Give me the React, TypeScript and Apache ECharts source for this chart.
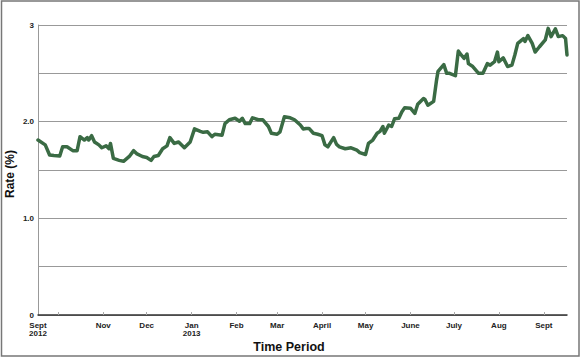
import React, { useEffect, useRef } from "react";
import * as echarts from "echarts";

const dates: string[] = [
  "2012-09-17", "2012-09-22", "2012-09-25", "2012-09-28", "2012-10-02", "2012-10-04", "2012-10-07", "2012-10-11",
  "2012-10-14", "2012-10-16", "2012-10-19", "2012-10-21", "2012-10-22", "2012-10-24", "2012-10-26", "2012-10-29",
  "2012-10-31", "2012-11-03", "2012-11-05", "2012-11-06", "2012-11-08", "2012-11-12", "2012-11-15", "2012-11-19",
  "2012-11-22", "2012-11-24", "2012-11-28", "2012-12-01", "2012-12-04", "2012-12-06", "2012-12-09", "2012-12-12",
  "2012-12-15", "2012-12-17", "2012-12-20", "2012-12-23", "2012-12-27", "2012-12-31", "2013-01-03", "2013-01-07",
  "2013-01-09", "2013-01-12", "2013-01-15", "2013-01-17", "2013-01-22", "2013-01-24", "2013-01-27", "2013-01-31",
  "2013-02-03", "2013-02-05", "2013-02-07", "2013-02-10", "2013-02-12", "2013-02-16", "2013-02-19", "2013-02-23",
  "2013-02-25", "2013-03-01", "2013-03-03", "2013-03-06", "2013-03-10", "2013-03-13", "2013-03-17", "2013-03-19",
  "2013-03-21", "2013-03-23", "2013-03-26", "2013-03-29", "2013-04-01", "2013-04-03", "2013-04-05", "2013-04-09",
  "2013-04-11", "2013-04-13", "2013-04-17", "2013-04-21", "2013-04-25", "2013-04-27", "2013-05-01", "2013-05-03",
  "2013-05-06", "2013-05-09", "2013-05-11", "2013-05-13", "2013-05-14", "2013-05-17", "2013-05-19", "2013-05-21",
  "2013-05-24", "2013-05-26", "2013-05-28", "2013-06-01", "2013-06-04", "2013-06-06", "2013-06-10", "2013-06-11",
  "2013-06-13", "2013-06-17", "2013-06-19", "2013-06-20", "2013-06-24", "2013-06-26", "2013-06-28", "2013-07-02",
  "2013-07-04", "2013-07-06", "2013-07-08", "2013-07-10", "2013-07-11", "2013-07-14", "2013-07-18", "2013-07-21",
  "2013-07-24", "2013-07-26", "2013-07-29", "2013-07-31", "2013-08-01", "2013-08-04", "2013-08-07", "2013-08-10",
  "2013-08-12", "2013-08-14", "2013-08-18", "2013-08-19", "2013-08-21", "2013-08-24", "2013-08-26", "2013-08-29",
  "2013-09-02", "2013-09-04", "2013-09-06", "2013-09-09", "2013-09-11", "2013-09-14", "2013-09-16", "2013-09-17",
];

const rates: number[] = [
  1.81, 1.76, 1.655, 1.65, 1.645, 1.74, 1.74, 1.7,
  1.7, 1.845, 1.81, 1.835, 1.81, 1.855, 1.79, 1.76,
  1.73, 1.75, 1.72, 1.775, 1.62, 1.6, 1.59, 1.64,
  1.7, 1.67, 1.64, 1.63, 1.6, 1.64, 1.65, 1.72,
  1.75, 1.835, 1.775, 1.79, 1.73, 1.79, 1.925, 1.9,
  1.89, 1.895, 1.845, 1.87, 1.86, 1.98, 2.02, 2.035,
  2.005, 2.035, 1.98, 1.98, 2.04, 2.02, 2.02, 1.95,
  1.88, 1.87, 1.895, 2.05, 2.04, 2.02, 1.965, 1.925,
  1.93, 1.93, 1.88, 1.87, 1.855, 1.76, 1.74, 1.835,
  1.765, 1.74, 1.72, 1.73, 1.705, 1.68, 1.66, 1.775,
  1.81, 1.88, 1.9, 1.95, 1.88, 1.965, 1.95, 2.03,
  2.035, 2.1, 2.145, 2.14, 2.085, 2.18, 2.24, 2.23,
  2.17, 2.21, 2.43, 2.52, 2.59, 2.5, 2.5, 2.475,
  2.73, 2.69, 2.655, 2.7, 2.6, 2.57, 2.5, 2.5,
  2.6, 2.585, 2.62, 2.72, 2.62, 2.66, 2.57, 2.585,
  2.69, 2.81, 2.86, 2.83, 2.89, 2.81, 2.72, 2.775,
  2.845, 2.965, 2.88, 2.96, 2.88, 2.89, 2.86, 2.69,
];

const axisStart = "2012-09-17";
const axisEnd = "2013-09-17";

const tickDates: string[] = [
  "2012-10-01", "2012-11-01", "2012-12-01", "2013-01-01", "2013-02-01", "2013-03-01",
  "2013-04-01", "2013-05-01", "2013-06-01", "2013-07-01", "2013-08-01", "2013-09-01",
];

const labelDates: string[] = [
  "2012-09-17", "2012-11-01", "2012-12-01", "2013-01-01", "2013-02-01", "2013-03-01",
  "2013-04-01", "2013-05-01", "2013-06-01", "2013-07-01", "2013-08-01", "2013-09-01",
];
const labelTexts: string[] = [
  "Sept\n2012", "Nov", "Dec", "Jan\n2013", "Feb", "Mar", "April", "May", "June", "July", "Aug", "Sept",
];

const yTickLabels: Record<string, string> = { "0": "0", "1": "1.0", "2": "2.0", "3": "3" };

const xTitle = "Time Period";
const yTitle = "Rate (%)";

const ts = (d: string) => {
  const [y, m, dd] = d.split("-").map(Number);
  return Date.UTC(y, m - 1, dd);
};

export default function App() {
  const ref = useRef<HTMLDivElement>(null);
  useEffect(() => {
    if (!ref.current) return;
    const chart = echarts.init(ref.current, undefined, { renderer: "svg" });
    const labelMap = new Map<number, string>();
    labelDates.forEach((d, i) => labelMap.set(ts(d), labelTexts[i]));
    const font = "Liberation Sans, Arial, sans-serif";
    chart.setOption({
      animation: false,
      backgroundColor: "#ffffff",
      grid: { left: 38, right: 15, top: 25, bottom: 43, containLabel: false },
      xAxis: {
        type: "value",
        min: ts(axisStart),
        max: ts(axisEnd),
        axisLine: { show: true, lineStyle: { color: "#333333", width: 1.5 } },
        axisTick: {
          show: true,
          inside: true,
          length: 3,
          lineStyle: { color: "#aaaaaa", width: 1 },
          customValues: tickDates.map(ts),
        },
        axisLabel: {
          show: true,
          customValues: labelDates.map(ts),
          formatter: (v: number) => labelMap.get(v) ?? "",
          color: "#222222",
          fontSize: 8,
          fontWeight: "bold",
          fontFamily: font,
          lineHeight: 8,
          margin: 6,
          hideOverlap: false,
        },
        splitLine: { show: false },
      },
      yAxis: {
        type: "value",
        min: 0,
        max: 3,
        interval: 0.5,
        axisLine: { show: true, lineStyle: { color: "#999999", width: 1 } },
        axisTick: { show: false },
        axisLabel: {
          formatter: (v: number) => yTickLabels[String(v)] ?? "",
          color: "#222222",
          fontSize: 8,
          fontWeight: "bold",
          fontFamily: font,
          margin: 4,
        },
        splitLine: { show: true, lineStyle: { color: "#999999", width: 1 } },
      },
      graphic: [
        {
          type: "rect",
          shape: { x: 1.5, y: 1, width: 577.5, height: 355 },
          style: { fill: "none", stroke: "#777777", lineWidth: 1.5 },
          silent: true,
        },
        {
          type: "text",
          x: 289,
          y: 347,
          style: {
            text: xTitle,
            align: "center",
            verticalAlign: "middle",
            font: "bold 12.5px " + font,
            fill: "#111111",
          },
        },
        {
          type: "text",
          x: 10,
          y: 174,
          rotation: Math.PI / 2,
          style: {
            text: yTitle,
            align: "center",
            verticalAlign: "middle",
            font: "bold 12px " + font,
            fill: "#111111",
          },
        },
      ],
      series: [
        {
          type: "line",
          data: dates.map((d, i) => [ts(d), rates[i]]),
          showSymbol: false,
          symbol: "none",
          smooth: false,
          lineStyle: { color: "#3a6b44", width: 3.5, join: "round", cap: "round" },
          z: 3,
        },
      ],
    });
    return () => chart.dispose();
  }, []);
  return (
    <div
      ref={ref}
      style={{ position: "absolute", left: 0, top: 0, width: 582, height: 358 }}
    />
  );
}
